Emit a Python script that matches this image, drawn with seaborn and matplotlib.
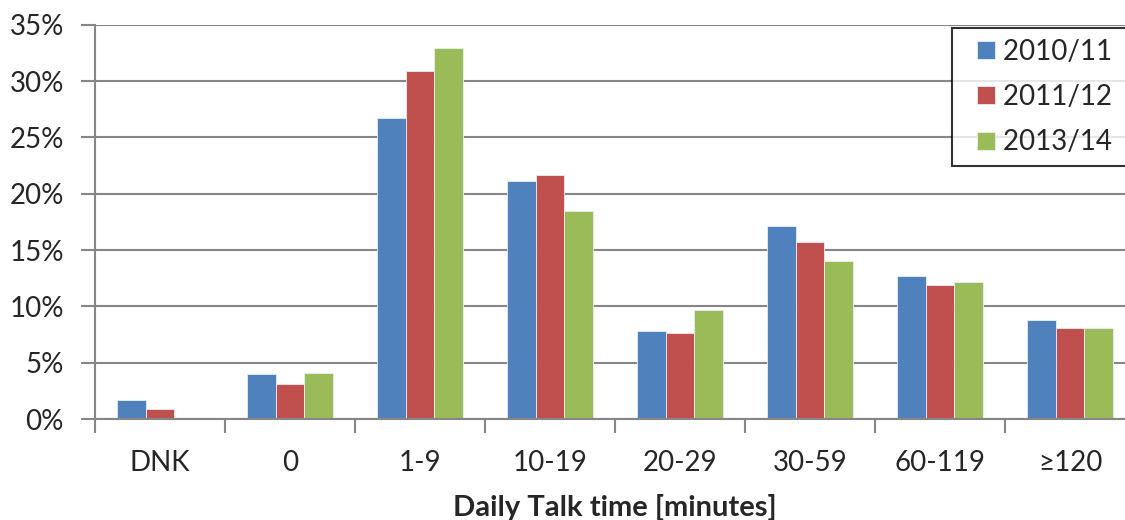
import matplotlib
matplotlib.use("Agg")
import matplotlib.pyplot as plt
import seaborn as sns
import pandas as pd
from matplotlib.ticker import FuncFormatter, FixedLocator
from matplotlib.patches import Rectangle
from matplotlib.legend_handler import HandlerPatch

categories = ["DNK", "0", "1-9", "10-19", "20-29", "30-59", "60-119", "≥120"]
series_names = ["2010/11", "2011/12", "2013/14"]
values_2010 = [1.7, 4.0, 26.7, 21.1, 7.8, 17.1, 12.7, 8.8]
values_2011 = [0.9, 3.1, 30.9, 21.7, 7.6, 15.7, 11.9, 8.1]
values_2013 = [0.0, 4.1, 32.9, 18.5, 9.7, 14.0, 12.2, 8.1]
colors = ["#4F81BD", "#C0504D", "#9BBB59"]

rows = []
for name, vals in zip(series_names, [values_2010, values_2011, values_2013]):
    for c, v in zip(categories, vals):
        rows.append({"cat": c, "series": name, "value": v})
df = pd.DataFrame(rows)

sns.set_style("white")
plt.rcParams["font.family"] = ["Lato", "DejaVu Sans"]

W, H = 1125, 520
fig = plt.figure(figsize=(W / 100, H / 100), dpi=100)
ax = fig.add_axes([95 / W, 1 - 419 / H, 1040 / W, (419 - 24.7) / H])

sns.barplot(data=df, x="cat", y="value", hue="series", order=categories,
            hue_order=series_names, palette=colors, width=0.66, ax=ax,
            edgecolor="#e8eef8", linewidth=0.6, saturation=1, legend=True, errorbar=None)

ax.set_ylim(0, 35)
ax.set_xlim(-0.5, len(categories) - 0.5)
ax.set_yticks(range(0, 36, 5))
ax.yaxis.set_major_formatter(FuncFormatter(lambda v, p: f"{int(v)}%"))
ax.grid(axis="y", color="#868686", linewidth=1.5)
ax.set_axisbelow(True)
for s in ["top", "right"]:
    ax.spines[s].set_visible(False)
for s in ["left", "bottom"]:
    ax.spines[s].set_color("#868686")
    ax.spines[s].set_linewidth(1.5)
ax.spines["bottom"].set_zorder(3)

ax.tick_params(axis="y", which="major", length=10, width=1.5, color="#868686",
               labelsize=20, pad=12.5, left=True)
ax.tick_params(axis="x", which="major", length=0, labelsize=20, pad=22)
ax.xaxis.set_minor_locator(FixedLocator([i - 0.5 for i in range(len(categories) + 1)]))
ax.tick_params(axis="x", which="minor", length=10, width=1.5, color="#868686", bottom=True)

ax.set_xlabel("Daily Talk time [minutes]", fontsize=21, fontweight="bold", labelpad=13)
ax.set_ylabel("")

handles, labels = ax.get_legend_handles_labels()
if ax.legend_:
    ax.legend_.remove()

SQ = 18 * 72 / 100  # square size in points


def square(legend, orig_handle, xdescent, ydescent, width, height, fontsize):
    return Rectangle((-xdescent + width - SQ, -ydescent + (height - SQ) / 2), SQ, SQ)


leg = fig.legend(handles, [l + "  " for l in labels], loc="upper left",
                 bbox_to_anchor=(952 / W, 1 - 28 / H),
                 fontsize=20, frameon=True, fancybox=False, edgecolor="black",
                 handlelength=1.15, handleheight=0.7, handletextpad=0.3,
                 labelspacing=0.7, borderpad=0.38, borderaxespad=0,
                 handler_map={Rectangle: HandlerPatch(patch_func=square)})
leg.get_frame().set_linewidth(1.5)

fig.savefig("out.png", dpi=100)
